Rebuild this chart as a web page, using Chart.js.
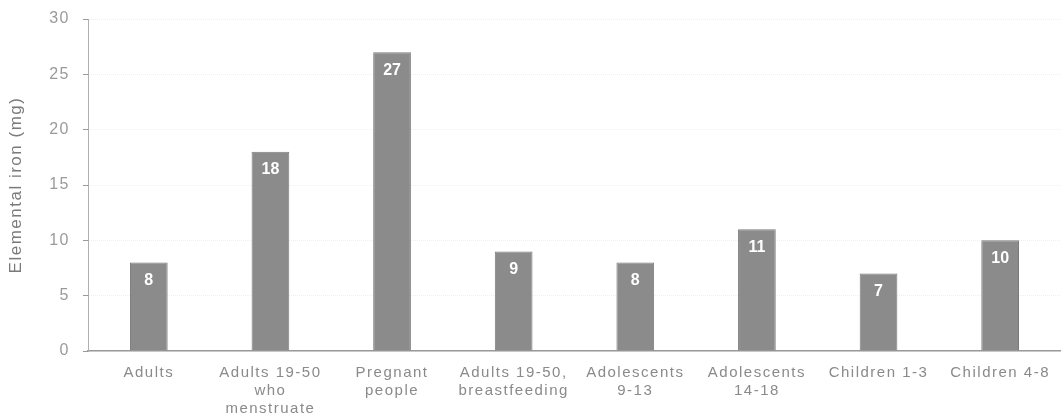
<!DOCTYPE html>
<html>
<head>
<meta charset="utf-8">
<title>Recommended daily iron intake</title>
<script src="https://cdn.jsdelivr.net/npm/chart.js@4/dist/chart.umd.min.js"></script>
<style>
  html, body { margin: 0; padding: 0; background: #ffffff; }
  #wrap { width: 1063px; height: 420px; position: relative; }
</style>
</head>
<body>
<div id="wrap"><canvas id="chart"></canvas></div>
<script>
// Recommended daily elemental iron by population group
const groups = [
  'Adults',
  ['Adults 19-50', 'who', 'menstruate'],
  ['Pregnant', 'people'],
  ['Adults 19-50,', 'breastfeeding'],
  ['Adolescents', '9-13'],
  ['Adolescents', '14-18'],
  'Children 1-3',
  'Children 4-8'
];
const ironMg = [8, 18, 27, 9, 8, 11, 7, 10];
const yTicks = [0, 5, 10, 15, 20, 25, 30];

const FONT = '"Liberation Sans", Arial, sans-serif';

// Wide, airy lettering for axis text
const spacing = {
  id: 'spacing',
  beforeDraw(chart) { chart.ctx.letterSpacing = '1.5px'; },
  beforeLayout(chart) { chart.ctx.letterSpacing = '1.5px'; }
};

// White value labels near the top of each bar
const valueLabels = {
  id: 'valueLabels',
  afterDatasetsDraw(chart) {
    const ctx = chart.ctx;
    const meta = chart.getDatasetMeta(0);
    const data = chart.data.datasets[0].data;
    ctx.save();
    ctx.letterSpacing = '0px';
    ctx.font = 'bold 16px ' + FONT;
    ctx.fillStyle = '#ffffff';
    ctx.textAlign = 'center';
    ctx.textBaseline = 'middle';
    meta.data.forEach((bar, i) => {
      ctx.fillText(String(data[i]), bar.x, bar.y + 18);
    });
    ctx.restore();
  }
};

new Chart(document.getElementById('chart'), {
  type: 'bar',
  data: {
    labels: groups,
    datasets: [{
      data: ironMg,
      backgroundColor: '#8b8b8b',
      borderColor: '#7b7b7b',
      borderWidth: 1,
      barPercentage: 0.31,
      categoryPercentage: 1.0
    }]
  },
  options: {
    responsive: true,
    maintainAspectRatio: false,
    animation: false,
    layout: { padding: { top: 19, right: 0, left: 0, bottom: 0 } },
    plugins: {
      legend: { display: false },
      tooltip: { enabled: false }
    },
    scales: {
      x: {
        offset: true,
        grid: { display: false, drawTicks: false },
        border: { display: true, color: '#9a9a9a', width: 1.5 },
        ticks: {
          color: '#8a8a8a',
          padding: 13,
          maxRotation: 0,
          autoSkip: false,
          font: { family: FONT, size: 15, lineHeight: 1.2 }
        },
        afterFit(scale) { scale.height = 69; }
      },
      y: {
        min: 0,
        max: 30,
        afterBuildTicks(scale) { scale.ticks = yTicks.map(v => ({ value: v })); },
        grid: {
          color: '#efefef',
          tickColor: '#9a9a9a',
          tickLength: 5,
          drawTicks: true
        },
        border: { display: true, color: '#b0b0b0', dash: [1, 1], width: 1 },
        ticks: {
          color: '#9a9a9a',
          padding: 13,
          font: { family: FONT, size: 16 }
        },
        title: {
          display: true,
          text: 'Elemental iron (mg)',
          color: '#7a7a7a',
          padding: { top: 6, bottom: 0 },
          font: { family: FONT, size: 17 }
        },
        afterFit(scale) {
          scale.width = 88;
          scale.paddingTop = 0;
          scale.paddingBottom = 0;
        }
      }
    }
  },
  plugins: [spacing, valueLabels]
});
</script>
</body>
</html>
